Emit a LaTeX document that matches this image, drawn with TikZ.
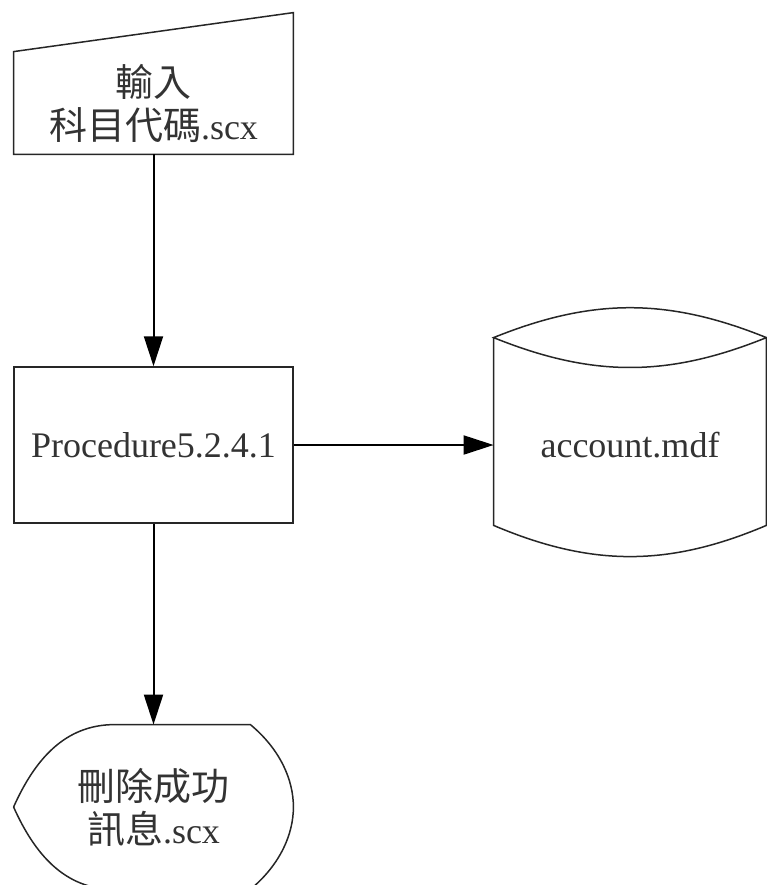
\documentclass[tikz,border=0pt]{standalone}
\usepackage{fontspec}
\setmainfont{Liberation Serif}
\newfontfamily\cjk{Noto Sans CJK TC}
\usepackage{tikz}
\usetikzlibrary{arrows.meta, positioning, calc}

\newcommand{\zh}[1]{{\cjk\fontsize{19pt}{21.5pt}\selectfont #1}}

\begin{document}
\begin{tikzpicture}[x=0.5pt, y=0.5pt,
    outline/.style={draw=black!85, line width=0.75pt},
    flow/.style={draw=black, line width=1pt, -{Triangle[length=15pt, width=9.5pt]}},
    label/.style={inner sep=0pt, align=center, text=black!80,
                  font=\fontsize{18pt}{21.5pt}\selectfont}]

        \useasboundingbox (0,0) rectangle (767,-885);

        % ===================================================
        % 1. MANUAL INPUT (top)
        % ===================================================
        \node[label, minimum width=139.5pt, minimum height=51pt] (inp) at (153.5,-103)
            {\zh{輸入}\\\zh{科目代碼}.scx};
        \draw[outline] (inp.south west) -- (inp.north west)
            -- ([yshift=19.5pt]inp.north east) -- (inp.south east) -- cycle;

        % ===================================================
        % 2. PROCESS BOX
        % ===================================================
        \node[label, outline, minimum width=139.5pt, minimum height=78pt] (proc) at (153.5,-445)
            {Procedure5.2.4.1};

        % ===================================================
        % 3. DATA STORE (cylinder)
        % ===================================================
        \node[label, minimum width=136pt, minimum height=80pt] (db) at (630,-445) {account.mdf};
        \draw[outline] ([yshift=13.5pt]db.north west) -- (db.south west)
            to[bend right=23] (db.south east) -- ([yshift=13.5pt]db.north east)
            to[bend right=22] ([yshift=13.5pt]db.north west)
            to[bend right=22] ([yshift=13.5pt]db.north east);

        % ===================================================
        % 4. DISPLAY (bottom)
        % ===================================================
        \node[label, minimum width=139.5pt, minimum height=82pt] (disp) at (153.5,-807)
            {\zh{刪除成功}\\\zh{訊息}.scx};
        \draw[outline] (disp.west) .. controls +(10.5pt,23.5pt) and +(-25pt,0) ..
            ([xshift=50.5pt]disp.north west) -- ([xshift=-21.5pt]disp.north east)
            .. controls +(15pt,-12.5pt) and +(0,13.5pt) .. (disp.east)
            .. controls +(0,-13.5pt) and +(15pt,12.5pt) .. ([xshift=-21.5pt]disp.south east)
            -- ([xshift=50.5pt]disp.south west)
            .. controls +(-25pt,0) and +(10.5pt,-23.5pt) .. (disp.west);

        % Connectors
        \draw[flow] (inp.south) -- (proc.north);
        \draw[flow] (proc.east) -- (db.west);
        \draw[flow] (proc.south) -- (disp.north);

\end{tikzpicture}
\end{document}
